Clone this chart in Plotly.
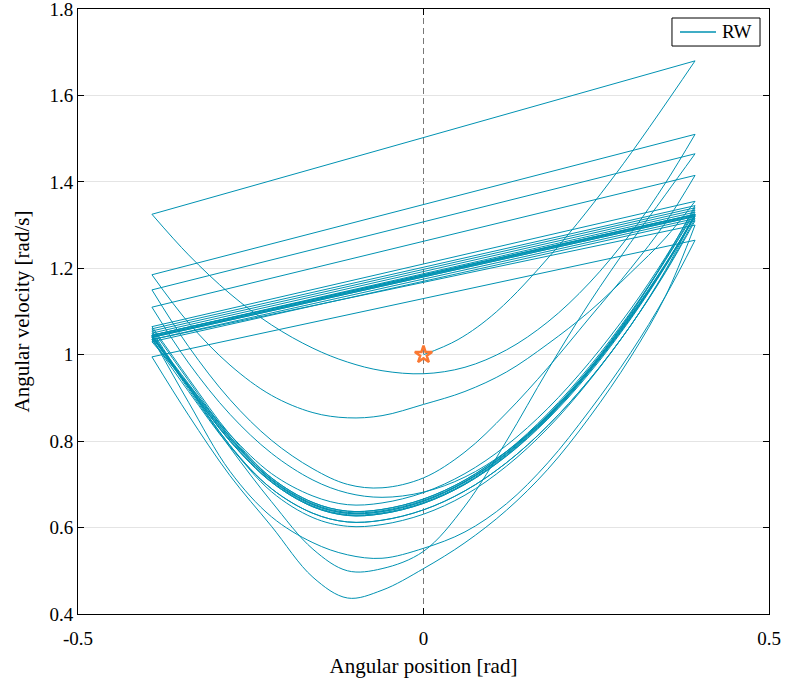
import plotly.graph_objects as go

# Rimless wheel phase portrait: angular position vs angular velocity
# Each stance swing is sampled at fixed angular positions (rad)
theta_grid = [-0.393, -0.34, -0.28, -0.22, -0.16, -0.11, -0.06, 0.0,
              0.06, 0.12, 0.18, 0.24, 0.30, 0.35, 0.393]

# Initial half swing starting from the initial condition (star)
theta_first = [0.0, 0.05, 0.106, 0.188, 0.28, 0.393]
omega_first = [1.0, 1.035, 1.1, 1.238, 1.422, 1.68]

# Subsequent swings in order of occurrence (rad/s at theta_grid)
omega_s01 = [1.325, 1.231, 1.141, 1.069, 1.015, 0.983, 0.963, 0.956, 0.971, 1.011, 1.076, 1.166, 1.281, 1.397, 1.51]
omega_s02 = [1.185, 1.074, 0.976, 0.906, 0.866, 0.854, 0.859, 0.885, 0.915, 0.96, 1.025, 1.10, 1.19, 1.27, 1.355]
omega_s03 = [1.065, 0.945, 0.815, 0.715, 0.658, 0.638, 0.642, 0.666, 0.71, 0.776, 0.864, 0.972, 1.099, 1.22, 1.335]
omega_s04 = [1.05, 0.925, 0.79, 0.69, 0.633, 0.613, 0.617, 0.641, 0.685, 0.75, 0.836, 0.942, 1.068, 1.195, 1.325]
omega_s05 = [1.045, 0.92, 0.785, 0.66, 0.55, 0.50, 0.505, 0.545, 0.65, 0.80, 0.965, 1.12, 1.26, 1.37, 1.465]
omega_s06 = [1.15, 1.019, 0.896, 0.802, 0.736, 0.70, 0.692, 0.715, 0.775, 0.865, 0.97, 1.085, 1.20, 1.305, 1.415]
omega_s07 = [1.11, 0.981, 0.862, 0.772, 0.71, 0.68, 0.67, 0.682, 0.717, 0.776, 0.858, 0.965, 1.095, 1.222, 1.345]
omega_s08 = [1.06, 0.94, 0.81, 0.71, 0.653, 0.633, 0.637, 0.661, 0.706, 0.772, 0.86, 0.968, 1.096, 1.218, 1.33]
omega_s09 = [1.045, 0.925, 0.80, 0.705, 0.648, 0.628, 0.632, 0.656, 0.70, 0.765, 0.851, 0.957, 1.083, 1.204, 1.32]
omega_s10 = [1.04, 0.89, 0.73, 0.625, 0.565, 0.537, 0.529, 0.552, 0.59, 0.655, 0.75, 0.87, 1.005, 1.135, 1.265]
omega_s11 = [0.995, 0.86, 0.72, 0.603, 0.485, 0.437, 0.455, 0.505, 0.565, 0.64, 0.735, 0.855, 0.995, 1.135, 1.30]
omega_s12 = [1.035, 0.915, 0.787, 0.69, 0.633, 0.613, 0.617, 0.641, 0.685, 0.75, 0.836, 0.942, 1.068, 1.19, 1.31]
omega_s13 = [1.03, 0.93, 0.815, 0.725, 0.673, 0.653, 0.657, 0.681, 0.725, 0.79, 0.876, 0.982, 1.106, 1.225, 1.34]
omega_s14 = [1.055, 0.925, 0.79, 0.683, 0.623, 0.603, 0.607, 0.631, 0.675, 0.742, 0.83, 0.94, 1.068, 1.192, 1.315]
omega_s15 = [1.035, 0.925, 0.80, 0.705, 0.648, 0.628, 0.632, 0.656, 0.70, 0.766, 0.853, 0.96, 1.085, 1.206, 1.325]
omega_s16 = [1.045, 0.933, 0.81, 0.715, 0.658, 0.638, 0.642, 0.666, 0.71, 0.775, 0.861, 0.967, 1.092, 1.21, 1.32]
omega_s17 = [1.04, 0.928, 0.805, 0.71, 0.653, 0.633, 0.637, 0.661, 0.705, 0.77, 0.856, 0.962, 1.088, 1.207, 1.322]
omega_s18 = [1.042, 0.93, 0.807, 0.712, 0.655, 0.635, 0.639, 0.663, 0.707, 0.772, 0.858, 0.964, 1.09, 1.209, 1.324]
omega_s19 = [1.042, 0.926, 0.802, 0.707, 0.65, 0.63, 0.634, 0.658, 0.702, 0.768, 0.855, 0.962, 1.087, 1.207, 1.323]

swings = [omega_s01, omega_s02, omega_s03, omega_s04, omega_s05, omega_s06, omega_s07,
          omega_s08, omega_s09, omega_s10, omega_s11, omega_s12, omega_s13, omega_s14,
          omega_s15, omega_s16, omega_s17, omega_s18, omega_s19]

start_point = (0.0, 1.0)

x_ticks = [-0.5, 0.0, 0.5]
x_ticktext = ["-0.5", "0", "0.5"]
y_ticks = [0.4, 0.6, 0.8, 1.0, 1.2, 1.4, 1.6, 1.8]
y_ticktext = ["0.4", "0.6", "0.8", "1", "1.2", "1.4", "1.6", "1.8"]

legend_label = "RW"

LINE_COLOR = "rgb(0,146,178)"
FONT = "Liberation Serif"

fig = go.Figure()

# (theta, omega) arrays for every swing, in order
segments = [(theta_first, omega_first)] + [(theta_grid, w) for w in swings]

for th, w in segments:
    fig.add_trace(go.Scatter(
        x=th, y=w, mode="lines", name=legend_label,
        line=dict(color=LINE_COLOR, width=1, shape="spline", smoothing=1.0),
        showlegend=False, hoverinfo="skip",
    ))

# impact transitions: end of one swing jumps to the start of the next
imp_x, imp_y = [], []
for (th_a, w_a), (th_b, w_b) in zip(segments[:-1], segments[1:]):
    imp_x += [th_a[-1], th_b[0], None]
    imp_y += [w_a[-1], w_b[0], None]
fig.add_trace(go.Scatter(
    x=imp_x, y=imp_y, mode="lines", line=dict(color=LINE_COLOR, width=1),
    showlegend=False, hoverinfo="skip",
))

# initial condition marker
fig.add_trace(go.Scatter(
    x=[start_point[0]], y=[start_point[1]], mode="markers",
    marker=dict(symbol="star-open", size=13, color="rgb(250,120,50)",
                line=dict(width=2.5, color="rgb(250,120,50)")),
    showlegend=False, hoverinfo="skip",
))

# dashed vertical reference at theta = 0
fig.add_shape(type="line", x0=0, x1=0, y0=0.4, y1=1.8, xref="x", yref="y",
              line=dict(color="rgb(120,120,120)", width=1, dash="6px,4px"), layer="below")

# legend box
fig.add_shape(type="rect", xref="paper", yref="paper", x0=0.8596, x1=0.987, y0=0.9388, y1=0.9851,
              line=dict(color="black", width=1), fillcolor="white", layer="above")
fig.add_shape(type="line", xref="paper", yref="paper", x0=0.8712, x1=0.9233, y0=0.962, y1=0.962,
              line=dict(color=LINE_COLOR, width=1.5), layer="above")
fig.add_annotation(xref="paper", yref="paper", x=0.9290, y=0.962, xanchor="left", yanchor="middle",
                   text=legend_label, showarrow=False, font=dict(family=FONT, size=19, color="black"))

axis_common = dict(
    showline=True, linecolor="black", linewidth=1, mirror="ticks",
    ticks="inside", ticklen=6, tickcolor="black", zeroline=False, automargin=False,
    tickfont=dict(family=FONT, size=19, color="black"), ticklabeloverflow="allow",
)

fig.update_layout(
    width=788, height=686,
    margin=dict(l=78, r=19, t=9, b=72),
    paper_bgcolor="white", plot_bgcolor="white",
    font=dict(family=FONT, color="black"),
    xaxis=dict(range=[-0.5, 0.5], tickvals=x_ticks, ticktext=x_ticktext, showgrid=False,
               ticklabelstandoff=7,
               title=dict(text="Angular position [rad]", font=dict(family=FONT, size=21), standoff=10),
               **axis_common),
    yaxis=dict(range=[0.4, 1.8], tickvals=y_ticks, ticktext=y_ticktext,
               showgrid=True, gridcolor="rgb(228,228,228)", gridwidth=1,
               title=dict(text="Angular velocity [rad/s]", font=dict(family=FONT, size=21), standoff=14),
               **axis_common),
    showlegend=False,
)

fig.write_html("out.html")
